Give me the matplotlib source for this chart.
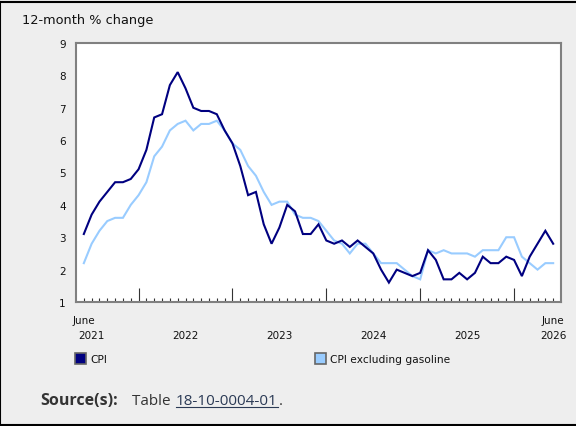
import numpy as np
import matplotlib
matplotlib.use("Agg")
import matplotlib.pyplot as plt
from matplotlib.patches import Rectangle
from matplotlib.lines import Line2D

# ---- data (June 2021 .. June 2026, monthly) ----
cpi = [3.1, 3.7, 4.1, 4.4, 4.7, 4.7, 4.8, 5.1, 5.7, 6.7, 6.8, 7.7, 8.1, 7.6, 7.0,
       6.9, 6.9, 6.8, 6.3, 5.9, 5.2, 4.3, 4.4, 3.4, 2.8, 3.3, 4.0, 3.8, 3.1, 3.1,
       3.4, 2.9, 2.8, 2.9, 2.7, 2.9, 2.7, 2.5, 2.0, 1.6, 2.0, 1.9, 1.8, 1.9, 2.6,
       2.3, 1.7, 1.7, 1.9, 1.7, 1.9, 2.4, 2.2, 2.2, 2.4, 2.3, 1.8, 2.4, 2.8, 3.2,
       2.8]
cpi_ex_gas = [2.2, 2.8, 3.2, 3.5, 3.6, 3.6, 4.0, 4.3, 4.7, 5.5, 5.8, 6.3, 6.5, 6.6,
              6.3, 6.5, 6.5, 6.6, 6.3, 5.9, 5.7, 5.2, 4.9, 4.4, 4.0, 4.1, 4.1, 3.7,
              3.6, 3.6, 3.5, 3.2, 2.9, 2.8, 2.5, 2.8, 2.8, 2.5, 2.2, 2.2, 2.2, 2.0,
              1.8, 1.7, 2.6, 2.5, 2.6, 2.5, 2.5, 2.5, 2.4, 2.6, 2.6, 2.6, 3.0, 3.0,
              2.4, 2.2, 2.0, 2.2, 2.2]
series_names = ["CPI", "CPI excluding gasoline"]
series_colors = ["#000080", "#99ccff"]
y_ticks = [1, 2, 3, 4, 5, 6, 7, 8, 9]
year_labels = ["2021", "2022", "2023", "2024", "2025", "2026"]
year_label_month_idx = [1, 13, 25, 37, 49, 60]
jan_idx = [7, 19, 31, 43, 55]

W, H = 576, 427
fig = plt.figure(figsize=(W / 100, H / 100), dpi=100, facecolor="#eeeeee")

def fx(px):
    return px / W

def fy(py):
    return 1 - py / H

ax = fig.add_axes([fx(76), fy(303), fx(561) - fx(76), fy(44) - fy(303)])
ax.set_facecolor("white")

x = np.arange(len(cpi))
ax.plot(x, cpi_ex_gas, color=series_colors[1], lw=1.5, solid_joinstyle="miter", zorder=2)
ax.plot(x, cpi, color=series_colors[0], lw=1.5, solid_joinstyle="miter", zorder=3)

ax.set_xlim(-1, 61)
ax.set_ylim(1, 9)

for s in ax.spines.values():
    s.set_color("#808080")
    s.set_linewidth(1.5)

ax.set_yticks(y_ticks)
ax.set_yticklabels([str(v) for v in y_ticks])
ax.tick_params(axis="y", length=0, pad=7.5, labelsize=7.5, labelcolor="#111111")

ax.set_xticks(jan_idx)
ax.set_xticks([i for i in x if i not in jan_idx], minor=True)
ax.tick_params(axis="x", which="major", direction="in", length=10, width=0.8,
               color="#333333", labelbottom=False)
ax.tick_params(axis="x", which="minor", direction="in", length=3, width=0.8,
               color="#333333", labelbottom=False)

tr = ax.get_xaxis_transform()
ax.text(0, -21 / 259, "June", transform=tr, ha="center", va="baseline",
        fontsize=7.5, color="#111111")
ax.text(60, -21 / 259, "June", transform=tr, ha="center", va="baseline",
        fontsize=7.5, color="#111111")
for lab, xi in zip(year_labels, year_label_month_idx):
    ax.text(xi, -36 / 259, lab, transform=tr, ha="center", va="baseline",
            fontsize=7.5, color="#111111")

# title
fig.text(fx(22), fy(24), "12-month % change", ha="left", va="baseline",
         fontsize=9.3, color="#111111")

# legend
for name, col, lx in zip(series_names, series_colors, [75, 315]):
    fig.patches.append(Rectangle((fx(lx), fy(365)), fx(11), 11 / H,
                                 transform=fig.transFigure, facecolor=col,
                                 edgecolor="#666666", lw=1.2))
    fig.text(fx(lx + 15), fy(363), name, ha="left", va="baseline",
             fontsize=7.7, color="#111111")

# source line
SRC_FAM = ["Open Sans", "DejaVu Sans"]
fig.text(fx(40), fy(405), "Source(s):", ha="left", va="baseline",
         fontsize=11.5, fontweight="bold", color="#333333", family=SRC_FAM)
fig.text(fx(132), fy(405), "Table ", ha="left", va="baseline",
         fontsize=11, color="#333333", family=SRC_FAM)
fig.text(fx(175.5), fy(405), "18-10-0004-01", ha="left", va="baseline",
         fontsize=11, color="#2b3a55", family=SRC_FAM)
fig.lines.append(Line2D([fx(175.5), fx(278)], [fy(408), fy(408)],
                        transform=fig.transFigure, color="#2b3a55", lw=0.8))
fig.text(fx(278.5), fy(405), ".", ha="left", va="baseline",
         fontsize=11, color="#333333", family=SRC_FAM)

# outer border (left, top, bottom)
fig.lines.append(Line2D([0, 0], [fy(3), fy(426)], transform=fig.transFigure,
                        color="black", lw=1.5))
fig.lines.append(Line2D([0, 1], [fy(3), fy(3)], transform=fig.transFigure,
                        color="black", lw=1.5))
fig.lines.append(Line2D([0, 1], [fy(426), fy(426)], transform=fig.transFigure,
                        color="black", lw=1.5))

fig.savefig("out.png", dpi=100, facecolor=fig.get_facecolor())
